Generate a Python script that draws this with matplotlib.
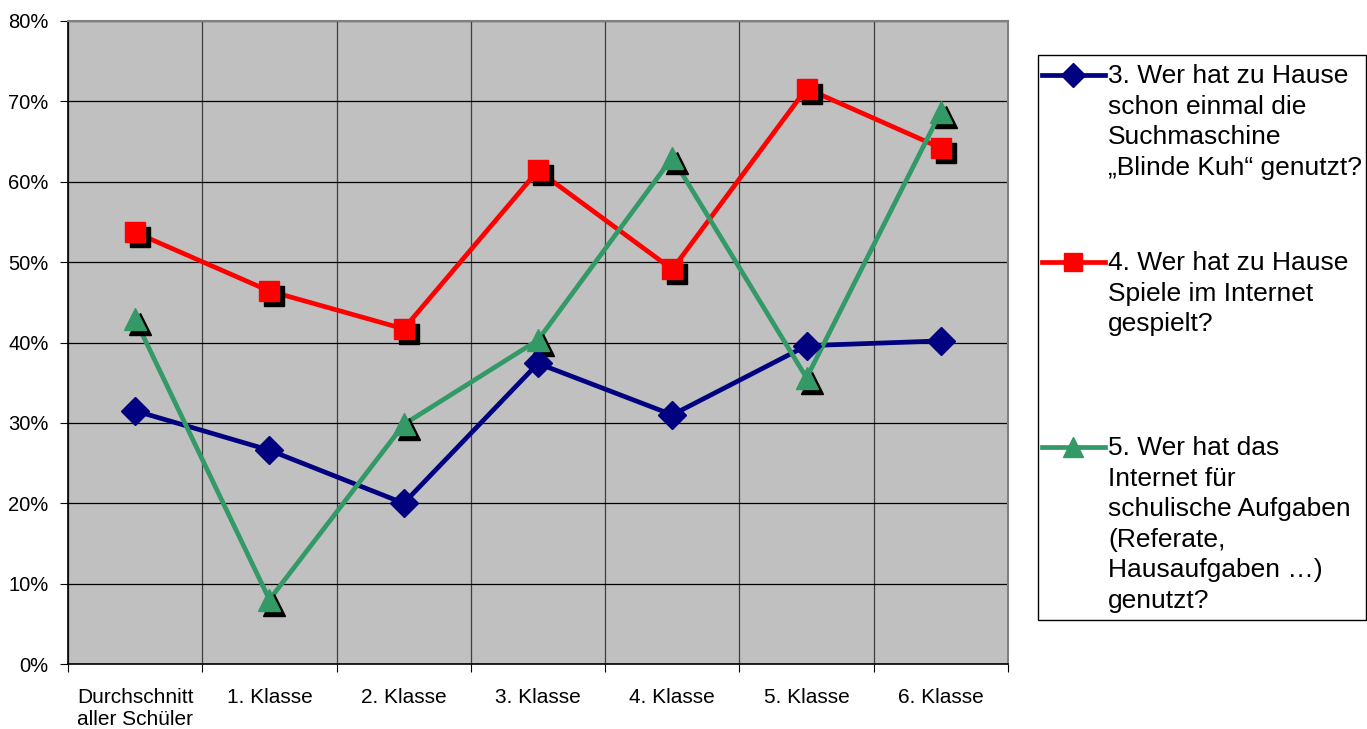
import matplotlib.pyplot as plt
import matplotlib.transforms as mtransforms
from matplotlib.lines import Line2D
from matplotlib.patches import Rectangle
import numpy as np

plt.rcParams['font.family'] = ['Liberation Sans', 'DejaVu Sans']

categories = ["Durchschnitt\naller Schüler", "1. Klasse", "2. Klasse", "3. Klasse",
              "4. Klasse", "5. Klasse", "6. Klasse"]
blinde_kuh = [31.5, 26.6, 20.0, 37.4, 31.0, 39.6, 40.2]
spiele = [53.7, 46.4, 41.7, 61.4, 49.1, 71.6, 64.2]
schule = [42.9, 8.0, 29.8, 40.3, 63.0, 35.6, 68.7]

series_labels = [
    ["3. Wer hat zu Hause", "schon einmal die", "Suchmaschine", "„Blinde Kuh“ genutzt?"],
    ["4. Wer hat zu Hause", "Spiele im Internet", "gespielt?"],
    ["5. Wer hat das", "Internet für", "schulische Aufgaben", "(Referate,", "Hausaufgaben …)", "genutzt?"],
]

W, H = 1367, 729
fig = plt.figure(figsize=(W / 100, H / 100), dpi=100)
ax = fig.add_axes([68 / W, 1 - 664 / H, 940 / W, 643 / H])
ax.set_facecolor('#C0C0C0')

x = np.arange(len(categories))
shadow = mtransforms.offset_copy(ax.transData, fig=fig, x=5, y=-5, units='dots')

styles = [
    (blinde_kuh, '#000080', 'D', 14, False),
    (spiele, '#FF0000', 's', 15, True),
    (schule, '#339966', '^', 16, True),
]
for vals, col, mk, ms, shad in styles:
    ax.plot(x, vals, color=col, lw=3.4, zorder=3)
    if shad:
        ax.plot(x, vals, ls='none', marker=mk, ms=ms, color='black', mec='black',
                transform=shadow, zorder=4)
    ax.plot(x, vals, ls='none', marker=mk, ms=ms, color=col, mec=col, zorder=5)

ax.set_xlim(-0.5, len(categories) - 0.5)
ax.set_ylim(0, 80)
ax.set_yticks(np.arange(0, 81, 10))
ax.set_yticklabels([f"{v}%" for v in range(0, 81, 10)], fontsize=14.5)
ax.set_xticks(np.arange(-0.5, len(categories), 1))
ax.set_xticklabels([])
ax.set_xticks(x, minor=True)
ax.set_xticklabels(categories, minor=True, fontsize=15, linespacing=1.2)
ax.tick_params(axis='x', which='minor', length=0, pad=17)
ax.tick_params(axis='x', which='major', length=6, direction='out', color='black')
ax.tick_params(axis='y', length=6, direction='out', pad=8)
ax.grid(axis='y', color='black', lw=0.9, zorder=1)
ax.grid(axis='x', which='major', color='#404040', lw=0.9, zorder=1)
ax.set_axisbelow(True)
for s in ['top', 'right']:
    ax.spines[s].set_color('#808080')
    ax.spines[s].set_linewidth(1.5)
for s in ['left', 'bottom']:
    ax.spines[s].set_color('black')
    ax.spines[s].set_linewidth(1.2)

# legend, drawn by hand (uneven spacing as in the original)
fig.patches.append(Rectangle((1038 / W, 1 - 620 / H), 328 / W, 565 / H,
                             transform=fig.transFigure, fill=False,
                             edgecolor='black', lw=1.0))
first_baselines = [83, 270, 455]
step = 30.6
for (vals, col, mk, ms, _), lines, b0 in zip(styles, series_labels, first_baselines):
    yc = 1 - (b0 - 8) / H
    fig.add_artist(Line2D([1042 / W, 1105 / W], [yc, yc], color=col, lw=3.4,
                          transform=fig.transFigure))
    fig.add_artist(Line2D([1073 / W], [yc], marker=mk, ms=ms - 2, color=col, mec=col,
                          ls='none', transform=fig.transFigure))
    for i, t in enumerate(lines):
        fig.text(1108 / W, 1 - (b0 + i * step) / H, t, fontsize=19,
                 va='baseline', ha='left')

fig.savefig('out.png', dpi=100)
